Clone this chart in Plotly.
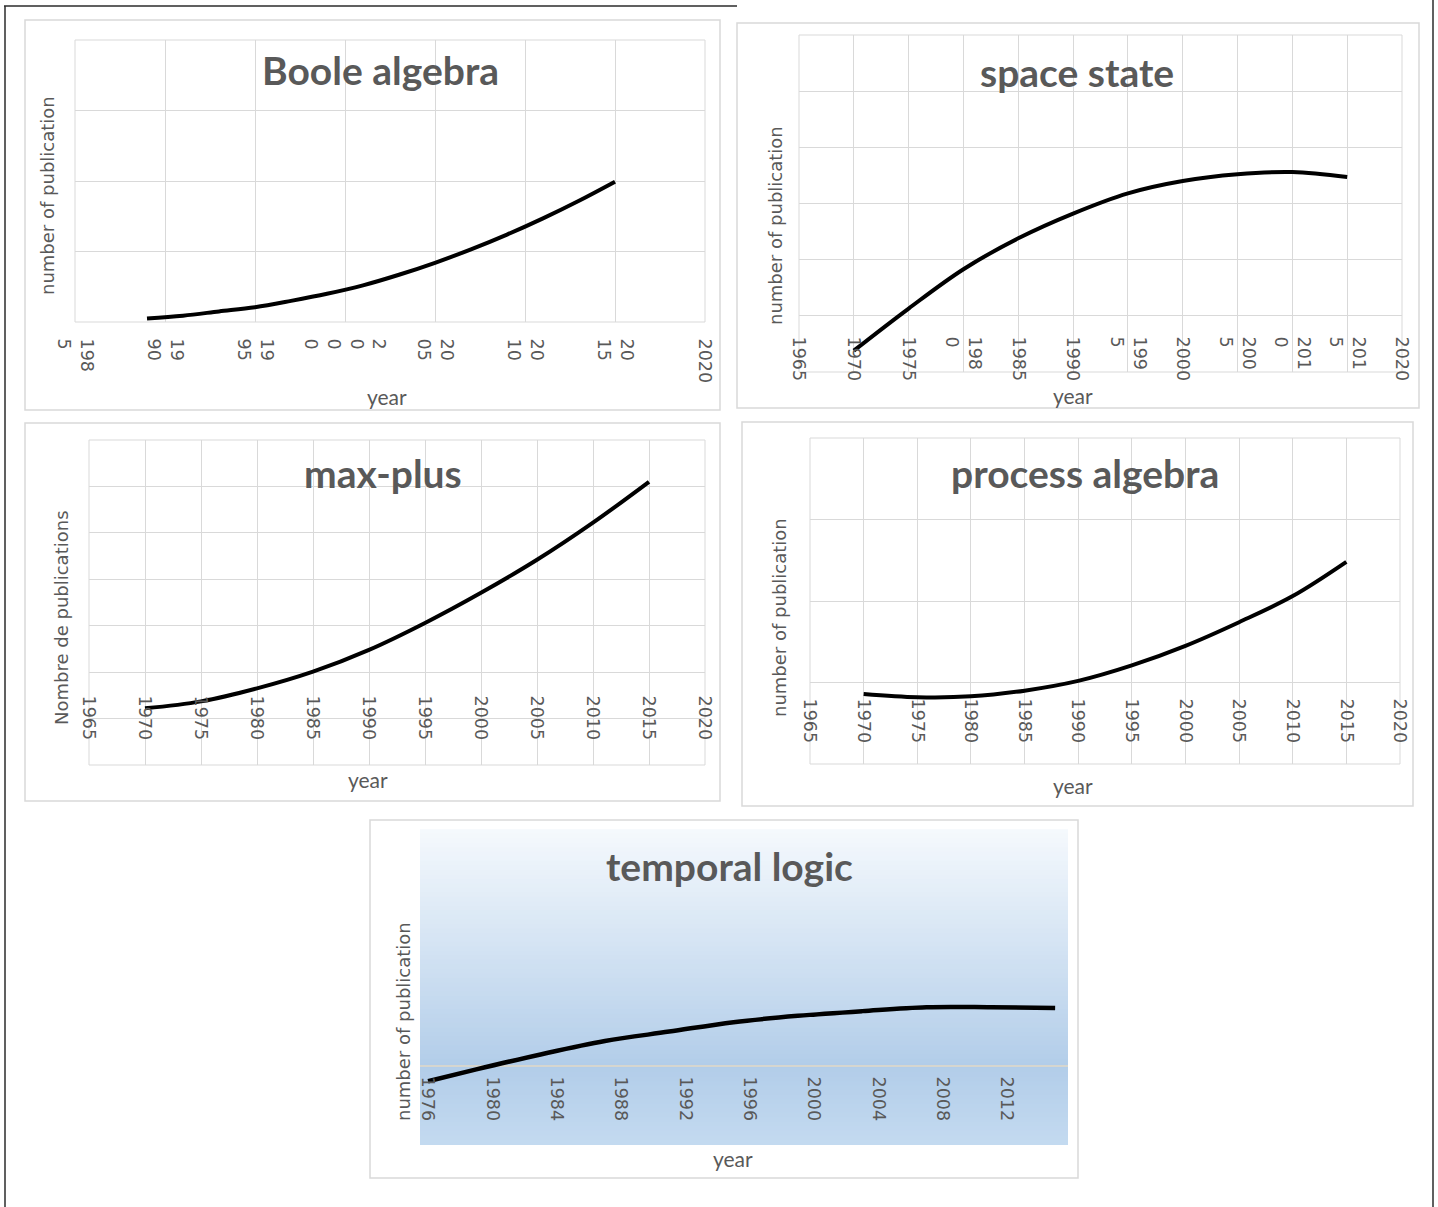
import plotly.graph_objects as go

W, H = 1438, 1207

# ---------------- data ----------------
boole_years = [1989, 1991, 1993, 1995, 1997, 1999, 2001, 2003, 2005, 2007, 2009, 2011, 2013, 2015]
boole_vals = [5, 9, 15, 21, 30, 40, 52, 67, 84, 103, 124, 147, 172, 199]
boole_tickvals = [1985, 1990, 1995, 2000, 2005, 2010, 2015, 2020]
boole_ticktext = ["198<br>5", "19<br>90", "19<br>95", "2<br>0<br>0<br>0", "20<br>05", "20<br>10", "20<br>15", "2020"]

space_years = [1970, 1975, 1980, 1985, 1990, 1995, 2000, 2005, 2010, 2015]
space_vals = [-62, 13, 83, 138, 182, 218, 240, 252, 256, 247]
space_tickvals = [1965, 1970, 1975, 1980, 1985, 1990, 1995, 2000, 2005, 2010, 2015, 2020]
space_ticktext = ["1965", "1970", "1975", "198<br>0", "1985", "1990", "199<br>5", "2000", "200<br>5", "201<br>0", "201<br>5", "2020"]

maxplus_years = [1970, 1975, 1980, 1985, 1990, 1995, 2000, 2005, 2010, 2015]
maxplus_vals = [-78, -63, -35, 1, 48, 106, 171, 242, 322, 410]
maxplus_tickvals = [1965, 1970, 1975, 1980, 1985, 1990, 1995, 2000, 2005, 2010, 2015, 2020]
maxplus_ticktext = [str(v) for v in maxplus_tickvals]

process_years = [1970, 1975, 1980, 1985, 1990, 1995, 2000, 2005, 2010, 2015]
process_vals = [-14, -18, -17, -10, 2, 21, 45, 74, 106, 148]
process_tickvals = [1965, 1970, 1975, 1980, 1985, 1990, 1995, 2000, 2005, 2010, 2015, 2020]
process_ticktext = [str(v) for v in process_tickvals]

temporal_years = [1976, 1979, 1983, 1987, 1991, 1995, 1999, 2003, 2007, 2011, 2015]
temporal_vals = [-9.5, -2, 7.5, 16, 22, 28, 32, 35, 37.5, 37.5, 37]
temporal_tickvals = [1976, 1980, 1984, 1988, 1992, 1996, 2000, 2004, 2008, 2012]
temporal_ticktext = [str(v) for v in temporal_tickvals]

# ---------------- layout helpers ----------------
def X(px):
    return px / W


def Y(py):
    return 1 - py / H


GRID = "#d9d9d9"
TXT = "#595959"

panels = [
    dict(title="Boole algebra", ytitle="number of publication",
         years=boole_years, vals=boole_vals, tv=boole_tickvals, tt=boole_ticktext,
         box=(25, 20, 720, 410), plot=(75, 40, 705, 322), xr=[1985, 2020], yr=[0, 400],
         axis_y=322, pad=12, title_xy=(380, 70), ytitle_xy=(47, 196), xtitle_xy=(387, 397),
         grid=True),
    dict(title="space state", ytitle="number of publication",
         years=space_years, vals=space_vals, tv=space_tickvals, tt=space_ticktext,
         box=(737, 23, 1419, 408), plot=(799, 35, 1402, 372), xr=[1965, 2020], yr=[-100, 500],
         axis_y=316, pad=16, title_xy=(1077, 72), ytitle_xy=(775, 226), xtitle_xy=(1073, 395),
         grid=True),
    dict(title="max-plus", ytitle="Nombre de publications",
         years=maxplus_years, vals=maxplus_vals, tv=maxplus_tickvals, tt=maxplus_ticktext,
         box=(25, 423, 720, 801), plot=(89, 440, 705, 765), xr=[1965, 2020], yr=[-200, 500],
         axis_y=672, pad=19, title_xy=(383, 473), ytitle_xy=(62, 618), xtitle_xy=(368, 779),
         grid=True),
    dict(title="process algebra", ytitle="number of publication",
         years=process_years, vals=process_vals, tv=process_tickvals, tt=process_ticktext,
         box=(742, 422, 1413, 806), plot=(810, 438, 1400, 764), xr=[1965, 2020], yr=[-100, 300],
         axis_y=682, pad=12, title_xy=(1085, 473), ytitle_xy=(780, 617), xtitle_xy=(1073, 785),
         grid=True),
    dict(title="temporal logic", ytitle="number of publication",
         years=temporal_years, vals=temporal_vals, tv=temporal_tickvals, tt=temporal_ticktext,
         box=(370, 820, 1078, 1178), plot=(420, 830, 1068, 1145), xr=[1975.5, 2015.8], yr=[-50, 150],
         axis_y=1067, pad=5, title_xy=(730, 866), ytitle_xy=(403, 1022), xtitle_xy=(733, 1158),
         grid=False),
]

fig = go.Figure()
shapes = []
annotations = []
layout_axes = {}

for i, p in enumerate(panels):
    n = "" if i == 0 else str(i + 1)
    L, T, R, B = p["plot"]
    fig.add_trace(go.Scatter(
        x=p["years"], y=p["vals"], mode="lines",
        line=dict(color="black", width=4 if p["grid"] else 4.5, shape="spline", smoothing=1.0),
        xaxis="x" + n, yaxis="y" + n, showlegend=False, hoverinfo="skip"))

    layout_axes["xaxis" + n] = dict(
        domain=[X(L), X(R)], range=p["xr"], anchor="free", position=Y(p["axis_y"]),
        tickmode="array", tickvals=p["tv"], ticktext=p["tt"], tickangle=90,
        tickfont=dict(family="DejaVu Sans", size=17.5, color=TXT),
        ticks="outside", ticklen=p["pad"], tickcolor="rgba(0,0,0,0)",
        showgrid=p["grid"], gridcolor=GRID, gridwidth=1,
        zeroline=False, showline=False, automargin=False, fixedrange=True)

    if p["grid"]:
        ydict = dict(dtick=100, tick0=0, showgrid=True, gridcolor=GRID, gridwidth=1, zeroline=False)
    else:
        ydict = dict(tickmode="array", tickvals=[0, 150], showgrid=True, gridcolor="#d6d6cf",
                     gridwidth=2, zeroline=False)
    layout_axes["yaxis" + n] = dict(
        domain=[Y(B), Y(T)], range=p["yr"], anchor="x" + n, showticklabels=False,
        ticks="", showline=False, automargin=False, fixedrange=True, **ydict)

    # panel frame
    bl, bt, br, bb = p["box"]
    shapes.append(dict(type="rect", xref="paper", yref="paper", x0=X(bl), x1=X(br), y0=Y(bb), y1=Y(bt),
                       line=dict(color=GRID, width=1.5), fillcolor="rgba(0,0,0,0)", layer="below"))
    if p["grid"]:
        shapes.append(dict(type="rect", xref="x" + n + " domain", yref="y" + n + " domain",
                           x0=0, x1=1, y0=0, y1=1, line=dict(color=GRID, width=1),
                           fillcolor="rgba(0,0,0,0)", layer="below"))

    # titles
    tx, ty = p["title_xy"]
    annotations.append(dict(text="<b>" + p["title"] + "</b>", x=X(tx), y=Y(ty), xref="paper", yref="paper",
                            xanchor="center", yanchor="middle", showarrow=False,
                            font=dict(family="Lato", size=39, color=TXT)))
    yx, yy = p["ytitle_xy"]
    annotations.append(dict(text=p["ytitle"], x=X(yx), y=Y(yy), xref="paper", yref="paper",
                            xanchor="center", yanchor="middle", showarrow=False, textangle=-90,
                            font=dict(family="DejaVu Sans", size=18, color=TXT)))
    xx, xy = p["xtitle_xy"]
    annotations.append(dict(text="year", x=X(xx), y=Y(xy), xref="paper", yref="paper",
                            xanchor="center", yanchor="middle", showarrow=False,
                            font=dict(family="Lato", size=21, color=TXT)))

# gradient background for the temporal logic plot area
t_zero = (1067 - 830) / (1145 - 830)
top_c, mid_c, bot_c = (245, 249, 253), (178, 205, 233), (196, 218, 240)
NS = 70
for k in range(NS):
    t = (k + 0.5) / NS
    if t <= t_zero:
        f = t / t_zero
        c = [round(top_c[j] + (mid_c[j] - top_c[j]) * f) for j in range(3)]
    else:
        f = (t - t_zero) / (1 - t_zero)
        c = [round(mid_c[j] + (bot_c[j] - mid_c[j]) * f) for j in range(3)]
    shapes.append(dict(type="rect", xref="x5 domain", yref="y5 domain", x0=0, x1=1,
                       y0=1 - (k + 1) / NS, y1=1 - k / NS + 0.002,
                       line=dict(width=0), fillcolor="rgb(%d,%d,%d)" % tuple(c), layer="below"))

# page frame lines
shapes += [
    dict(type="line", xref="paper", yref="paper", x0=X(4), x1=X(737), y0=Y(6), y1=Y(6),
         line=dict(color="#2b2b2b", width=1.5)),
    dict(type="line", xref="paper", yref="paper", x0=X(5), x1=X(5), y0=Y(6), y1=Y(1207),
         line=dict(color="#2b2b2b", width=1.5)),
    dict(type="line", xref="paper", yref="paper", x0=X(1433), x1=X(1433), y0=Y(0), y1=Y(1207),
         line=dict(color="#2b2b2b", width=1.5)),
]

fig.update_layout(
    template="none",
    width=W, height=H,
    margin=dict(l=0, r=0, t=0, b=0, pad=0),
    paper_bgcolor="white", plot_bgcolor="rgba(0,0,0,0)",
    showlegend=False,
    shapes=shapes, annotations=annotations,
    **layout_axes,
)

fig.write_html("out.html",
               config={"displayModeBar": False, "staticPlot": True},
               post_script="document.body.style.margin='0';document.body.style.overflow='hidden';")
